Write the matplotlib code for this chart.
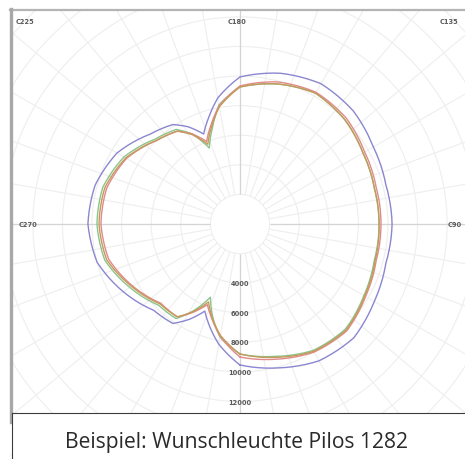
import numpy as np
import matplotlib
matplotlib.use("Agg")
import matplotlib.pyplot as plt
from matplotlib.patches import Rectangle
from matplotlib.lines import Line2D

# C-plane angles (deg) and luminous intensity (cd) per curve
angles = [0, 15, 30, 45, 60, 75, 90, 105, 120, 135, 150, 165, 180,
          190, 196, 202, 208, 214, 225, 240, 255, 270, 285, 300, 315,
          326, 332, 338, 344, 350, 360]
purple = [9530, 10070, 10680, 10880, 10480, 10210, 10280, 10210, 10410, 10820, 10950, 10550, 9940,
          8650, 7570, 6560, 7440, 8110, 8590, 9600, 10140, 10280, 10000, 9130, 8250,
          8110, 7300, 6350, 7300, 8250, 9530]
red = [8990, 9460, 10000, 10210, 9800, 9530, 9530, 9530, 9730, 10140, 10280, 9940, 9330,
       8110, 7030, 6020, 6900, 7570, 7980, 8860, 9330, 9400, 9190, 8380, 7570,
       7570, 6760, 5880, 6760, 7710, 8990]
brown = [8790, 9330, 9940, 10140, 9730, 9460, 9400, 9400, 9600, 10000, 10210, 9800, 9260,
         8040, 6900, 5810, 6830, 7570, 7980, 8920, 9460, 9530, 9330, 8450, 7640,
         7570, 6690, 5680, 6690, 7640, 8790]
green = [8790, 9260, 9870, 10070, 9670, 9400, 9400, 9400, 9600, 10000, 10210, 9800, 9260,
         8180, 6760, 5540, 6900, 7710, 8110, 9060, 9600, 9670, 9460, 8590, 7770,
         7710, 6620, 5340, 6620, 7770, 8790]

ring_labels = [4000, 6000, 8000, 10000, 12000]
plane_labels = ["C225", "C180", "C135", "C270", "C90"]

W, H = 465, 460
fig = plt.figure(figsize=(W / 100, H / 100), dpi=100)
fig.patch.set_facecolor("white")

# polar axes, centre at pixel (240, 225), rmax at 325 px
rmax = 22000
rpx = rmax / 67.6
cx, cy = 240, 225
ax = fig.add_axes([(cx - rpx) / W, (H - cy - rpx) / H, 2 * rpx / W, 2 * rpx / H],
                  projection="polar")
ax.set_theta_zero_location("S")
ax.set_theta_direction(1)
ax.set_ylim(0, rmax)
ax.spines["polar"].set_visible(False)
ax.set_xticks([])
ax.set_yticks(np.arange(2000, rmax + 1, 2000))
ax.set_yticklabels([])
ax.tick_params(length=0)
ax.xaxis.grid(False)
ax.yaxis.grid(True, color="#eeeeee", lw=0.8)
ax.vlines(np.deg2rad(np.arange(0, 360, 10)), 2000, rmax, color="#eeeeee", lw=0.8)
ax.vlines(np.deg2rad([0, 90, 180, 270]), 2000, rmax, color="#d4d4d4", lw=0.9)

th = np.deg2rad(angles)
curves = [(green, "#8cc48c"), (red, "#e08a8a"), (brown, "#c49a5a"), (purple, "#8a86d0")]
for vals, col in curves:
    ln, = ax.plot(th, vals, color=col, lw=1.0)
    # draw the segments as arcs in polar space
    ln.get_path()._interpolation_steps = 12

for v in ring_labels:
    ax.text(0, v, str(v), ha="center", va="center", fontsize=4.8,
            fontweight="bold", color="#5a5a5a")

# plane labels along the frame edges (pixel positions)
label_pos = [(25, 22), (237, 22), (449, 22), (28, 225), (455, 225)]
for txt, (px, py) in zip(plane_labels, label_pos):
    fig.text(px / W, 1 - py / H, txt, ha="center", va="center", fontsize=4.8,
             fontweight="bold", color="#5a5a5a")

# white margins and frame
fig.add_artist(Rectangle((0, 1 - 10 / H), 1, 10 / H, transform=fig.transFigure,
                         facecolor="white", edgecolor="none", zorder=2))
fig.add_artist(Rectangle((0, 0), 10 / W, 1, transform=fig.transFigure,
                         facecolor="white", edgecolor="none", zorder=2))
fig.add_artist(Line2D([10 / W, 1], [1 - 11 / H, 1 - 11 / H], transform=fig.transFigure,
                      color="#b4b4b4", lw=1.6, zorder=3))
fig.add_artist(Line2D([11 / W, 11 / W], [1 - 10 / H, 1 - 423 / H], transform=fig.transFigure,
                      color="#a8a8a8", lw=2.4, zorder=3))

# caption box
fig.add_artist(Rectangle((12 / W, 0), 1, 1 - 414 / H, transform=fig.transFigure,
                         facecolor="white", edgecolor="none", zorder=4))
fig.add_artist(Line2D([12 / W, 1], [1 - 414 / H, 1 - 414 / H], transform=fig.transFigure,
                      color="#3c3c3c", lw=0.8, zorder=5))
fig.add_artist(Line2D([12 / W, 12 / W], [0, 1 - 414 / H], transform=fig.transFigure,
                      color="#3c3c3c", lw=0.8, zorder=5))
fig.text(236 / W, 1 - 443 / H, "Beispiel: Wunschleuchte Pilos 1282", ha="center", va="center",
         fontsize=15.2, family="Open Sans", color="#2a2a2a", zorder=6)

fig.savefig("out.png", dpi=100, facecolor="white")
